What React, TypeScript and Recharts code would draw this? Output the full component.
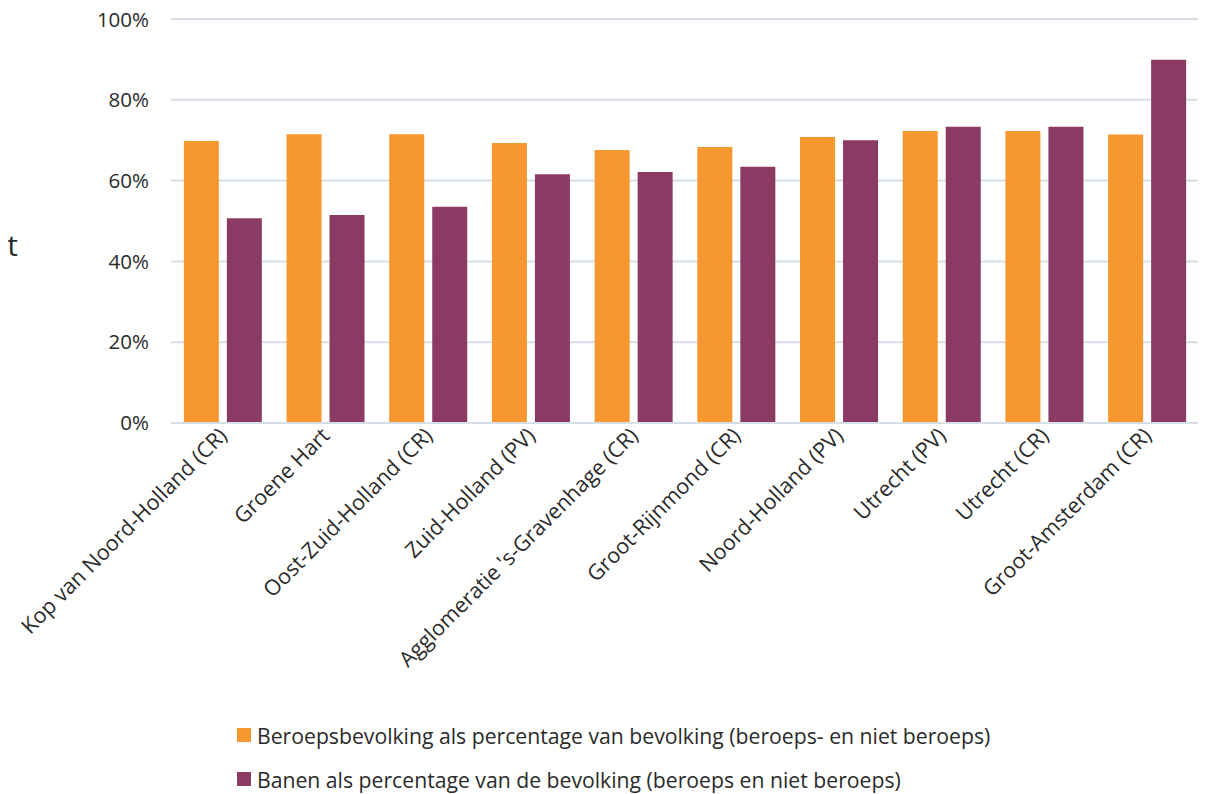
import { BarChart, Bar, XAxis, YAxis, CartesianGrid, Legend } from 'recharts'

const regions = [
  'Kop van Noord-Holland (CR)',
  'Groene Hart',
  'Oost-Zuid-Holland (CR)',
  'Zuid-Holland (PV)',
  "Agglomeratie 's-Gravenhage (CR)",
  'Groot-Rijnmond (CR)',
  'Noord-Holland (PV)',
  'Utrecht (PV)',
  'Utrecht (CR)',
  'Groot-Amsterdam (CR)',
]

const beroepsbevolking = [69.8, 71.5, 71.5, 69.3, 67.6, 68.3, 70.8, 72.3, 72.3, 71.4]
const banen = [50.7, 51.5, 53.5, 61.6, 62.1, 63.4, 70.0, 73.3, 73.3, 89.9]

const yTicks = [0, 20, 40, 60, 80, 100]

const ORANGE = '#F7972F'
const PURPLE = '#8B3A63'
const TEXT = '#2b2b2b'
const FONT = '"Open Sans", sans-serif'

const seriesNames = {
  beroeps: 'Beroepsbevolking als percentage van bevolking (beroeps- en niet beroeps)',
  banen: 'Banen als percentage van de bevolking (beroeps en niet beroeps)',
}

const data = regions.map((name, i) => ({
  name,
  beroeps: beroepsbevolking[i],
  banen: banen[i],
}))

const RotatedTick = ({ x, y, payload }: any) => (
  <g transform={`translate(${x + 6},${y + 6})`}>
    <text
      x={0}
      y={0}
      textAnchor="end"
      transform="rotate(-45)"
      fill={TEXT}
      fontSize={21.5}
      fontFamily={FONT}
    >
      {payload.value}
    </text>
  </g>
)

const LegendBox = () => (
  <div style={{ height: 100, paddingTop: 19, boxSizing: 'border-box', fontFamily: FONT }}>
    {[
      { color: ORANGE, label: seriesNames.beroeps },
      { color: PURPLE, label: seriesNames.banen },
    ].map((item) => (
      <div
        key={item.label}
        style={{ display: 'flex', alignItems: 'center', height: 44, fontSize: 21.2, color: TEXT }}
      >
        <span style={{ width: 14, height: 14, background: item.color, marginRight: 6 }} />
        {item.label}
      </div>
    ))}
  </div>
)

export default function App() {
  return (
    <div style={{ marginLeft: -8 }}>
      <BarChart
        width={1212}
        height={786}
        data={data}
        margin={{ top: 11, right: 14, left: 0, bottom: 0 }}
        barCategoryGap="12.5%"
        barGap={8}
      >
        <CartesianGrid vertical={false} stroke="#D6DFE7" strokeWidth={2} />
        <XAxis
          dataKey="name"
          interval={0}
          height={271}
          axisLine={{ stroke: '#D6DFE7', strokeWidth: 2 }}
          tickLine={false}
          tick={<RotatedTick />}
        />
        <YAxis
          width={171}
          domain={[0, 100]}
          ticks={yTicks}
          axisLine={false}
          tickLine={false}
          tickMargin={16}
          tickFormatter={(v) => `${v}%`}
          tick={{ fill: TEXT, fontSize: 20.5, fontFamily: FONT }}
          label={{
            content: () => (
              <text x={18} y={248} textAnchor="end" fill={TEXT} fontSize={30} fontFamily={FONT}>
                Procent
              </text>
            ),
          }}
        />
        <Legend
          verticalAlign="bottom"
          align="left"
          wrapperStyle={{ left: 237, width: 'auto' }}
          content={<LegendBox />}
        />
        <Bar dataKey="beroeps" name={seriesNames.beroeps} fill={ORANGE} isAnimationActive={false} />
        <Bar dataKey="banen" name={seriesNames.banen} fill={PURPLE} isAnimationActive={false} />
      </BarChart>
    </div>
  )
}
